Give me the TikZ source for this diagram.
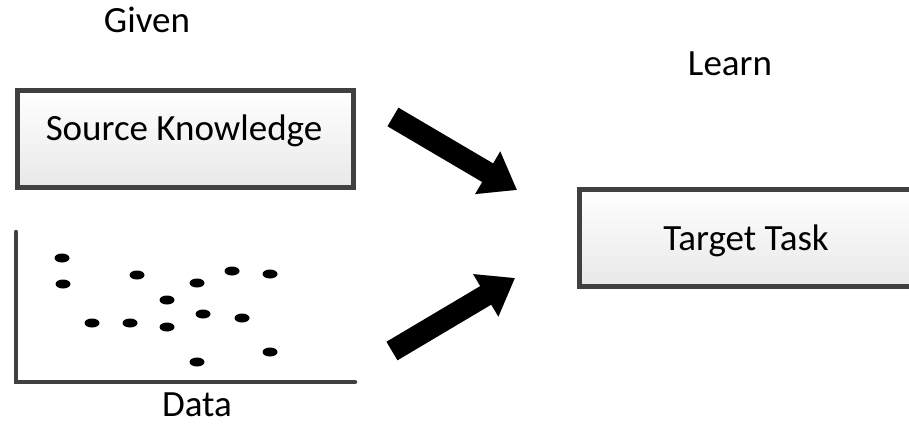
\documentclass[tikz,border=0pt]{standalone}
\usepackage{fontspec}
\setmainfont{Carlito}
\usetikzlibrary{arrows.meta}

\tikzset{
	box/.style={draw=black!75, line width=4.5pt, top color=white, bottom color=black!9, inner sep=0pt},
	word/.style={font=\fontsize{37}{41}\selectfont, inner sep=0pt, anchor=base},
	bigarrow/.style={line width=21.5pt, -{Triangle[length=34pt,width=47pt]}},
}

\begin{document}
\begin{tikzpicture}[x=1pt,y=-1pt]
	\useasboundingbox (0,0) rectangle (909,423);
	\clip (0,0) rectangle (909,423);

	\node[word] (given) at (147,32) {Given};
	\node[word] (learn) at (730,75) {Learn};

	\node[box, minimum width=336pt, minimum height=97pt] (source) at (185.5,139) {};
	\node[word] (sourcetext) at (184,140) {Source Knowledge};

	\node[box, minimum width=341pt, minimum height=97pt] (target) at (750,238) {};
	\node[word] (targettext) at (746,250) {Target Task};

	% data plot
	\draw[black!75, line width=4.5pt, line cap=round] (16,232) coordinate (ytop) |- (355,382) coordinate (xend);
	\foreach \px/\py in {62/258, 63/284, 137/275, 197/283, 232/271, 270/274, 167/300,
		92/323, 130/323, 167/327, 203/314, 242/318, 197/362, 270/352}
		\fill (\px,\py) ellipse [x radius=7.5pt, y radius=4.5pt];
	\node[word] (data) at (197,416) {Data};

	\coordinate (uptail) at (393,117);
	\coordinate (uptip) at (517,190);
	\coordinate (lowtail) at (392,351);
	\coordinate (lowtip) at (515,278);

	\begin{scope}[shift={(2,2)}]
		\draw[bigarrow, black!35] (uptail) -- (uptip);
		\draw[bigarrow, black!35] (lowtail) -- (lowtip);
	\end{scope}
	\draw[bigarrow] (uptail) -- (uptip);
	\draw[bigarrow] (lowtail) -- (lowtip);
\end{tikzpicture}
\end{document}
